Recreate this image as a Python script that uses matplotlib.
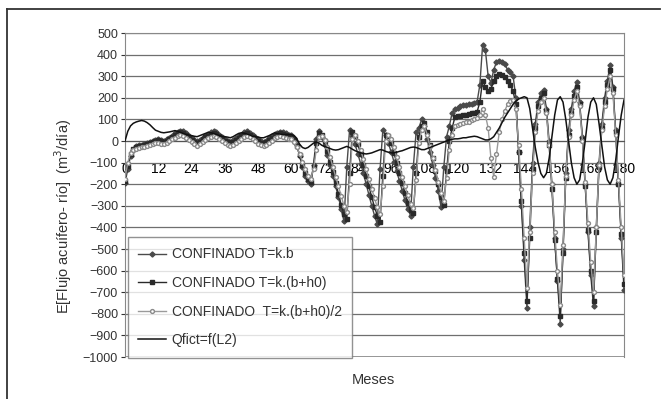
import numpy as np
import matplotlib
matplotlib.use("Agg")
import matplotlib.pyplot as plt
from matplotlib.lines import Line2D

plt.rcParams['font.family'] = ['Liberation Sans', 'DejaVu Sans']

# months 0..180, one row per year
meses = list(range(0, 181))
xticks_meses = list(range(0, 181, 12))

conf_kb = [
    -195, -130, -70, -40, -25, -20, -18, -15, -10, -5, 0, 5,
    10, 5, 0, 8, 15, 25, 35, 42, 48, 45, 35, 22,
    12, 5, -2, 5, 15, 25, 32, 40, 45, 40, 30, 20,
    10, 2, -5, 3, 12, 22, 30, 40, 44, 38, 28, 18,
    8, 0, -5, 2, 12, 22, 32, 38, 42, 40, 35, 30,
    28, 15, -20, -70, -120, -160, -185, -200, -110, 10, 45, 20,
    -20, -65, -110, -160, -210, -260, -315, -372, -120, 50, 25, -15,
    -60, -105, -150, -200, -250, -300, -345, -385, -130, 50, 30, -10,
    -50, -95, -140, -185, -230, -275, -315, -345, -120, 40, 60, 100,
    70, 10, -50, -110, -170, -230, -305, -120, 20, 70, 130, 150,
    155, 160, 165, 165, 170, 172, 175, 180, 260, 445, 420, 300,
    270, 330, 365, 372, 368, 355, 330, 320, 300, 200, -50, -300,
    -550, -775, -400, -100, 80, 180, 220, 236, 150, 0, -200, -450,
    -650, -845, -500, -150, 50, 150, 230, 275, 180, 20, -200, -420,
    -620, -765, -400, -100, 80, 200, 280, 352, 250, 50, -200, -450,
    -690,
]

conf_kbh0 = [
    -185, -115, -60, -35, -28, -25, -22, -20, -15, -10, -5, 0,
    5, 0, -5, 2, 10, 18, 28, 35, 40, 38, 28, 15,
    5, -3, -10, -3, 8, 18, 25, 32, 38, 32, 22, 12,
    2, -6, -12, -5, 5, 15, 22, 32, 36, 30, 20, 10,
    0, -8, -12, -5, 5, 15, 25, 30, 35, 32, 28, 22,
    20, 5, -25, -65, -110, -150, -175, -190, -120, -10, 35, 30,
    0, -45, -95, -145, -195, -245, -295, -340, -360, -150, 40, 25,
    -15, -60, -110, -160, -210, -260, -305, -345, -375, -160, 30, 25,
    -10, -55, -100, -150, -195, -240, -285, -320, -335, -150, 20, 70,
    85, 40, -20, -80, -140, -200, -260, -295, -140, 0, 60, 110,
    115, 118, 120, 122, 125, 128, 130, 135, 180, 280, 250, 230,
    240, 280, 300, 310, 305, 295, 280, 260, 230, 170, -50, -280,
    -520, -740, -450, -130, 60, 160, 200, 220, 140, -20, -220, -460,
    -640, -810, -520, -170, 30, 130, 210, 250, 170, 10, -210, -410,
    -600, -740, -420, -120, 60, 180, 260, 330, 240, 40, -200, -430,
    -660,
]

conf_kbh0_2 = [
    -175, -100, -55, -40, -35, -32, -30, -28, -25, -20, -15, -10,
    -8, -12, -15, -10, -2, 8, 15, 22, 28, 25, 15, 5,
    -5, -15, -22, -15, -5, 5, 12, 20, 25, 20, 10, 0,
    -10, -18, -25, -18, -8, 2, 10, 18, 24, 18, 8, -2,
    -12, -20, -25, -18, -8, 2, 12, 18, 22, 20, 15, 10,
    8, -5, -30, -60, -95, -130, -160, -175, -130, -40, 20, 25,
    5, -30, -75, -120, -165, -210, -255, -300, -330, -200, 10, 30,
    0, -40, -85, -130, -175, -220, -265, -305, -340, -210, 0, 30,
    10, -30, -75, -120, -165, -210, -250, -290, -310, -180, -10, 50,
    70, 30, -25, -80, -135, -190, -240, -280, -170, -40, 30, 70,
    75, 80, 85, 88, 90, 95, 100, 105, 120, 150, 120, 60,
    -80, -165, -60, 40, 100, 140, 170, 185, 190, 150, -20, -220,
    -450, -680, -420, -150, 40, 140, 180, 200, 130, -20, -200, -420,
    -600, -760, -480, -160, 20, 120, 190, 230, 160, 0, -190, -380,
    -560, -700, -400, -110, 50, 160, 240, 300, 220, 30, -180, -400,
    -620,
]

qfict = [
    0, 45, 70, 82, 88, 92, 95, 92, 85, 75, 62, 50,
    45, 40, 38, 40, 42, 45, 48, 45, 40, 35, 30, 28,
    25, 22, 20, 25, 30, 35, 40, 38, 35, 30, 25, 22,
    20, 18, 15, 20, 28, 35, 38, 36, 32, 28, 22, 20,
    18, 15, 15, 20, 25, 32, 38, 35, 32, 30, 30, 30,
    30, 25, 10, -15, -30, -35, -30, -20, -10, -5, -10, -20,
    -25, -30, -35, -40, -42, -40, -35, -30, -25, -30, -38, -45,
    -50, -55, -58, -60, -58, -55, -50, -45, -40, -42, -48, -52,
    -55, -55, -52, -48, -45, -40, -35, -30, -28, -30, -35, -40,
    -40, -35, -30, -25, -20, -15, -10, -5, 0, 5, 8, 10,
    10, 12, 15, 15, 18, 20, 22, 20, 15, 10, 5, 5,
    10, 20, 40, 60, 85, 110, 130, 150, 170, 185, 195, 200,
    205, 200, 150, 60, -30, -100, -150, -170, -150, -80, 20, 120,
    190, 205, 180, 100, 0, -100, -170, -200, -180, -100, 0, 110,
    180, 200, 170, 80, -20, -120, -180, -200, -170, -90, 20, 120,
    190,
]

fig = plt.figure(figsize=(6.71, 3.99), dpi=100)
ax = fig.add_axes([125/671, 1 - 357/399, 499/671, 324/399])

ax.plot(meses, conf_kb, color='#4a4a4a', lw=1.0, marker='D', ms=2.6,
        mfc='#4a4a4a', mec='#4a4a4a', label='CONFINADO T=k.b', zorder=3)
ax.plot(meses, conf_kbh0, color='#2a2a2a', lw=1.0, marker='s', ms=2.6,
        mfc='#2a2a2a', mec='#2a2a2a', label='CONFINADO T=k.(b+h0)', zorder=3)
ax.plot(meses, conf_kbh0_2, color='#9a9a9a', lw=1.0, marker='o', ms=2.8,
        mfc='white', mec='#8a8a8a', label='CONFINADO  T=k.(b+h0)/2', zorder=3)
ax.plot(meses, qfict, color='#111111', lw=1.1, label='Qfict=f(L2)', zorder=4)

ax.set_xlim(0, 180)
ax.set_ylim(-1000, 500)
ax.set_yticks(range(-1000, 501, 100))
ax.set_xticks(xticks_meses)
ax.set_xticklabels([str(v) for v in xticks_meses], fontsize=8, color='#333333')
ax.tick_params(axis='y', labelsize=9, colors='#333333', length=3, width=0.8, pad=2)
ax.tick_params(axis='x', length=0, pad=15)
ax.grid(axis='y', color='#6f6f6f', lw=0.9)
ax.set_axisbelow(True)

ax.spines['bottom'].set_position(('data', 0))
ax.spines['bottom'].set_color('#555555')
for s in ['left', 'right', 'top']:
    ax.spines[s].set_color('#888888')
ax.axhline(-1000, color='#888888', lw=1.2)

leg = ax.legend(loc='lower left', bbox_to_anchor=(0.006, -0.002), fontsize=10,
                frameon=True, fancybox=False, edgecolor='#777777',
                labelspacing=1.05, handlelength=2.0, handletextpad=0.4,
                borderpad=0.75, borderaxespad=0.0)
leg.get_frame().set_linewidth(1.0)
for t in leg.get_texts():
    t.set_color('#333333')

fig.text(63/671, 1 - 216/399, 'E[Flujo acuífero- río]  (m$^3$/día)', rotation=90,
         ha='center', va='center', fontsize=10.5, color='#333333')
fig.text(373/671, 1 - 380/399, 'Meses', ha='center', va='center',
         fontsize=10.5, color='#333333')

# outer frame
fig.add_artist(Line2D([7/671, 7/671], [0, 1 - 9/399], transform=fig.transFigure,
                      color='#333333', lw=1.3))
fig.add_artist(Line2D([7/671, 660/671], [1 - 9/399, 1 - 9/399], transform=fig.transFigure,
                      color='#333333', lw=1.3))

fig.savefig('out.png', dpi=100)
